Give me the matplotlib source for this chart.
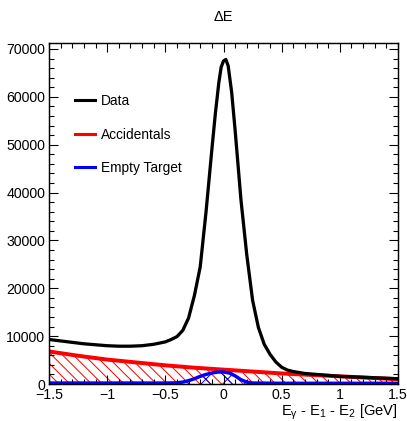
import numpy as np
import matplotlib
matplotlib.use('Agg')
import matplotlib.pyplot as plt
from matplotlib.ticker import MultipleLocator

plt.rcParams['font.family'] = ['Liberation Sans', 'DejaVu Sans']
plt.rcParams['mathtext.fontset'] = 'custom'
plt.rcParams['mathtext.rm'] = 'Liberation Sans'
plt.rcParams['mathtext.it'] = 'Liberation Sans'
plt.rcParams['hatch.linewidth'] = 0.55

# data
x_data = [-1.5, -1.4, -1.3, -1.2, -1.1, -1.0, -0.9, -0.8, -0.7, -0.6, -0.5,
          -0.45, -0.4, -0.35, -0.3, -0.25, -0.2, -0.15, -0.1, -0.07, -0.04, -0.02, 0.0,
          0.02, 0.04, 0.07, 0.1, 0.15, 0.2, 0.25, 0.3, 0.35, 0.4, 0.45, 0.5,
          0.55, 0.6, 0.7, 0.8, 0.9, 1.0, 1.1, 1.2, 1.3, 1.4, 1.5]
y_data = [9300, 9000, 8700, 8400, 8200, 8000, 7900, 7900, 8000, 8300, 8800,
          9300, 9900, 11200, 13800, 18500, 24500, 36000, 49000, 56500, 63000, 66200, 67500,
          67800, 66500, 61000, 53000, 38500, 27000, 17500, 11800, 8300, 6200, 4600, 3500,
          2900, 2600, 2200, 2000, 1800, 1600, 1500, 1400, 1300, 1200, 1100]

x_acc = [-1.5, -1.25, -1.0, -0.75, -0.5, -0.25, 0.0, 0.25, 0.5, 0.75, 1.0, 1.25, 1.5]
y_acc = [6800, 5900, 5100, 4500, 3900, 3400, 3000, 2600, 2200, 1900, 1600, 1300, 1000]

x_empty = [-1.5, -1.0, -0.5, -0.4, -0.35, -0.3, -0.25, -0.2, -0.15, -0.1, -0.05,
           0.0, 0.05, 0.1, 0.15, 0.2, 0.25, 0.5, 1.0, 1.5]
y_empty = [200, 200, 200, 250, 400, 700, 1100, 1600, 2000, 2300, 2500,
           2500, 2300, 1700, 900, 400, 200, 150, 150, 150]

dpi = 130
fig = plt.figure(figsize=(407 / dpi, 421 / dpi), dpi=dpi, facecolor='w')
ax = fig.add_axes([49 / 407, 1 - 384 / 421, 349 / 407, 341 / 421])

ax.fill_between(x_acc, 0, y_acc, facecolor='none', edgecolor='red', hatch='\\\\\\\\', linewidth=0)
ax.fill_between(x_empty, 0, y_empty, facecolor='none', edgecolor='blue', hatch='xx', linewidth=0)
ax.plot(x_acc, y_acc, color='red', lw=2.2, label='Accidentals')
ax.plot(x_empty, y_empty, color='blue', lw=1.9, label='Empty Target')
ax.plot(x_data, y_data, color='black', lw=1.8, label='Data')

ax.set_xlim(-1.5, 1.5)
ax.set_ylim(0, 71250)

ax.xaxis.set_major_locator(MultipleLocator(0.5))
ax.xaxis.set_minor_locator(MultipleLocator(0.1))
ax.yaxis.set_major_locator(MultipleLocator(10000))
ax.yaxis.set_minor_locator(MultipleLocator(2000))
ax.set_xticks([-1.5, -1, -0.5, 0, 0.5, 1, 1.5])
ax.set_xticklabels(['\u22121.5', '\u22121', '\u22120.5', '0', '0.5', '1', '1.5'])
ax.tick_params(which='both', direction='in', top=True, right=True, labelsize=7.8, pad=2.2, width=0.6)
ax.tick_params(which='major', length=5)
ax.tick_params(which='minor', length=2.5)
for s in ax.spines.values():
    s.set_linewidth(0.8)

ax.set_title('\u0394E', fontsize=8, pad=12)
ax.text(1.0, -0.082, r'E$_{\gamma}$ - E$_{1}$ - E$_{2}$ [GeV]', transform=ax.transAxes,
        ha='right', va='center', fontsize=8.2)

h, l = ax.get_legend_handles_labels()
order = [2, 0, 1]
leg = ax.legend([h[i] for i in order], [l[i] for i in order], loc='upper left',
                bbox_to_anchor=(0.075, 0.85), frameon=False, fontsize=7.6,
                borderpad=0, borderaxespad=0, handlelength=1.46, handletextpad=0.44,
                labelspacing=1.42)
for line in leg.get_lines():
    line.set_linewidth(1.7)

fig.savefig('out.png', dpi=dpi)
